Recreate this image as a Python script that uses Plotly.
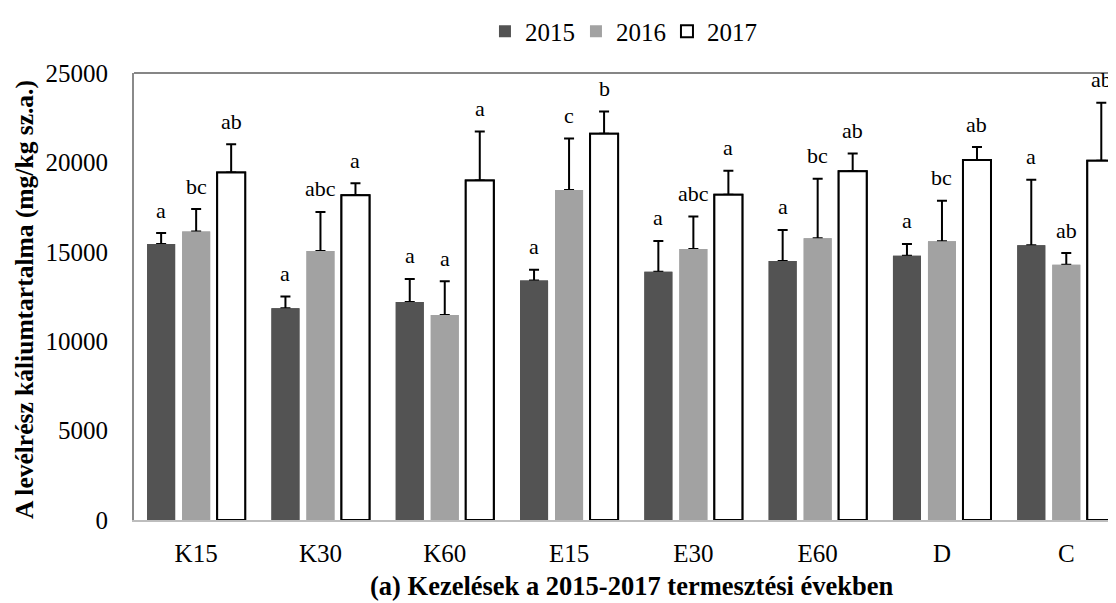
import plotly.graph_objects as go

categories = ["K15", "K30", "K60", "E15", "E30", "E60", "D", "C"]
years = ["2015", "2016", "2017"]

mean_2015 = [15440, 11840, 12190, 13390, 13880, 14490, 14780, 15370]
mean_2016 = [16140, 15040, 11460, 18460, 15150, 15760, 15590, 14280]
mean_2017 = [19430, 18160, 18990, 21600, 18190, 19510, 20130, 20090]

err_2015 = [610, 660, 1290, 610, 1730, 1730, 660, 3660]
err_2016 = [1250, 2190, 1890, 2870, 1820, 3330, 2260, 650]
err_2017 = [1580, 680, 2740, 1250, 1340, 990, 730, 3240]

letters_2015 = ["a", "a", "a", "a", "a", "a", "a", "a"]
letters_2016 = ["bc", "abc", "a", "c", "abc", "bc", "bc", "ab"]
letters_2017 = ["ab", "a", "a", "b", "a", "ab", "ab", "ab"]

y_ticks = [0, 5000, 10000, 15000, 20000, 25000]
y_tick_text = ["0", "5000", "10000", "15000", "20000", "25000"]

FONT = "Liberation Serif, Times New Roman, serif"
BARGAP = 0.155
GROUPGAP = 0.2

styles = [
    dict(color="#535353", line=dict(color="#535353", width=0)),
    dict(color="#a2a2a2", line=dict(color="#a2a2a2", width=0)),
    dict(color="#ffffff", line=dict(color="#000000", width=2)),
]
means = [mean_2015, mean_2016, mean_2017]
errs = [err_2015, err_2016, err_2017]
letters = [letters_2015, letters_2016, letters_2017]

x_idx = list(range(len(categories)))
fig = go.Figure()

# first pass: bars with upper error bars
for j, yr in enumerate(years):
    fig.add_trace(go.Bar(
        x=x_idx, y=means[j], name=yr, offsetgroup=yr, showlegend=False,
        marker=styles[j], hoverinfo="skip",
        error_y=dict(type="data", symmetric=False, array=errs[j],
                     arrayminus=[0] * len(errs[j]), color="#000000",
                     thickness=2, width=5),
    ))
# second pass: same bars on top (hides the lower error-bar caps)
for j, yr in enumerate(years):
    fig.add_trace(go.Bar(
        x=x_idx, y=means[j], name=yr, offsetgroup=yr, showlegend=True,
        marker=styles[j],
    ))

slot = (1 - BARGAP) / len(years)
annotations = []
for j in range(len(years)):
    off = (j - (len(years) - 1) / 2) * slot
    for i in x_idx:
        annotations.append(dict(
            x=i + off, y=means[j][i] + errs[j][i], xref="x", yref="y",
            text=letters[j][i], showarrow=False, yanchor="middle",
            xanchor="center", yshift=23,
            font=dict(family=FONT, size=22, color="#000000"),
        ))

annotations.append(dict(
    text="<b>A levélrész káliumtartalma (mg/kg sz.a.)</b>",
    xref="paper", yref="paper", x=-0.112, y=0.492, textangle=-90,
    showarrow=False, xanchor="center", yanchor="middle",
    font=dict(family=FONT, size=25.5, color="#000000"),
))
annotations.append(dict(
    text="<b>(a) Kezelések a 2015-2017 termesztési években</b>",
    xref="paper", yref="paper", x=0.5066, y=-0.148,
    showarrow=False, xanchor="center", yanchor="middle",
    font=dict(family=FONT, size=26.5, color="#000000"),
))

# the page body has an 8px default margin, so the figure is sized 8px smaller
fig.update_layout(
    width=1108, height=595,
    margin=dict(l=126, r=0, t=59, b=83),
    paper_bgcolor="#ffffff", plot_bgcolor="#ffffff",
    barmode="group", bargap=BARGAP, bargroupgap=GROUPGAP,
    font=dict(family=FONT, size=25, color="#000000"),
    showlegend=True,
    legend=dict(orientation="h", x=0.3574, xanchor="left", y=1.093,
                yanchor="middle", font=dict(family=FONT, size=25),
                traceorder="normal", itemwidth=30, entrywidth=46,
                bgcolor="rgba(0,0,0,0)"),
    annotations=annotations,
    shapes=[dict(type="line", xref="paper", yref="paper", x0=0, x1=1,
                 y0=1, y1=1, line=dict(color="#868686", width=2))],
)
fig.update_xaxes(
    range=[-0.5, 7.40], tickmode="array", tickvals=x_idx, ticktext=categories,
    showgrid=False, zeroline=False, showline=True, linecolor="#bdbdbd",
    linewidth=2, ticks="", tickfont=dict(family=FONT, size=25),
    ticklabelstandoff=10,
)
fig.update_yaxes(
    range=[0, 25000], tickmode="array", tickvals=y_ticks, ticktext=y_tick_text,
    showgrid=False, zeroline=False, showline=True, linecolor="#8a8a8a",
    linewidth=2, ticks="", tickfont=dict(family=FONT, size=25),
    ticklabelstandoff=19,
)

fig.write_html("out.html")
